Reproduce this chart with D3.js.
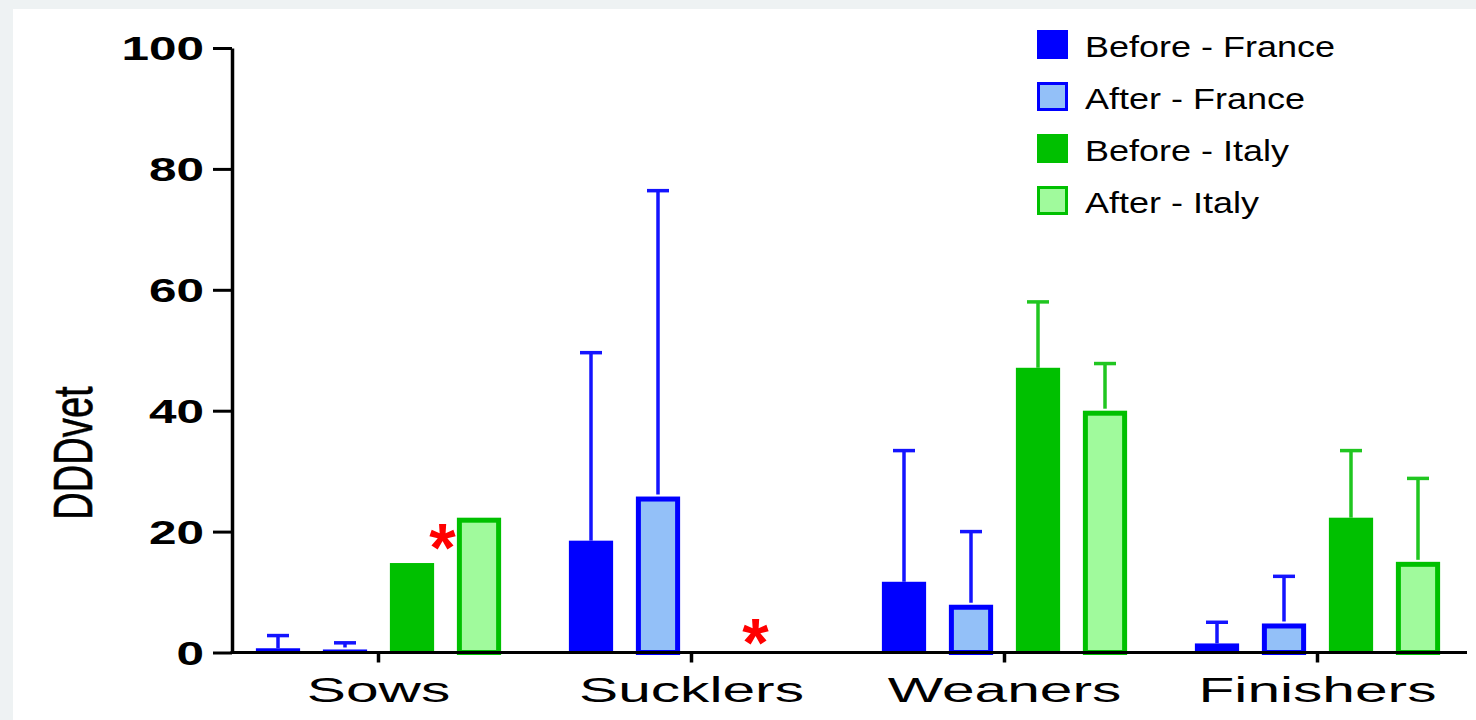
<!DOCTYPE html>
<html>
<head>
<meta charset="utf-8">
<script src="https://cdn.jsdelivr.net/npm/d3@7"></script>
<style>
  html, body { margin: 0; padding: 0; background: #eef2f3; }
  svg { display: block; }
  text { font-family: "Liberation Sans", Arial, sans-serif; }
</style>
</head>
<body>
<div id="chart"></div>
<script>
(function() {
  var width = 1476,
      height = 720;

  // data
  var categories = ["Sows", "Sucklers", "Weaners", "Finishers"];
  var series = ["Before - France", "After - France", "Before - Italy", "After - Italy"];

  var beforeFrance    = [0.7, 18.5, 11.7, 1.5],
      beforeFranceTop = [2.8, 49.6, 33.4, 5.0],
      afterFrance     = [0.5, 25.8, 7.9, 4.8],
      afterFranceTop  = [1.6, 76.4, 20.0, 12.6],
      beforeItaly     = [14.8, 0, 47.1, 22.3],
      beforeItalyTop  = [null, null, 58.0, 33.4],
      afterItaly      = [22.3, 0, 40.0, 15.0],
      afterItalyTop   = [null, null, 47.8, 28.8];

  var yTicks = [0, 20, 40, 60, 80, 100];

  // significance marks: category + height (DDDvet) where the star sits
  var stars = [
    { cat: "Sows", y: 18.0 },
    { cat: "Sucklers", y: 2.3 }
  ];

  var values = [beforeFrance, afterFrance, beforeItaly, afterItaly],
      tops = [beforeFranceTop, afterFranceTop, beforeItalyTop, afterItalyTop];

  var fills   = ["#0000ff", "#93c0f8", "#00c000", "#a0fa9c"],
      strokes = ["#0000ff", "#0000ff", "#00c000", "#00c000"],
      errCol  = ["#1414ff", "#1414ff", "#20c620", "#20c620"],
      hollow  = [false, true, false, true];

  var rows = [];
  categories.forEach(function(c, i) {
    series.forEach(function(s, j) {
      rows.push({ cat: c, s: s, k: j, v: values[j][i], top: tops[j][i] });
    });
  });

  var svg = d3.select("#chart").append("svg")
      .attr("width", width)
      .attr("height", height);

  svg.append("rect")
      .attr("x", 13).attr("y", 9)
      .attr("width", width - 13).attr("height", height - 9)
      .attr("fill", "#ffffff");

  var axisLeft = 232, axisRight = 1467;

  var y = d3.scaleLinear()
      .domain([0, 100])
      .range([652.5, 48]);

  var x0 = d3.scaleBand()
      .domain(categories)
      .range([222, 1474]);

  var x1 = d3.scaleBand()
      .domain(series)
      .range([22.5, 290.5])
      .paddingInner(0.34)
      .paddingOuter(0.17);

  // bars
  var bars = svg.append("g");
  bars.selectAll("rect")
      .data(rows.filter(function(d) { return d.v > 0; }))
    .join("rect")
      .each(function(d) {
        var sw = hollow[d.k] ? 5 : 0,
            bx = x0(d.cat) + x1(d.s),
            bw = x1.bandwidth(),
            top = y(d.v),
            h = y(0) - top;
        var r = d3.select(this);
        if (sw && h <= sw) {
          // too short to show the fill: only the outline colour is seen
          r.attr("x", bx).attr("y", top).attr("width", bw).attr("height", h)
            .attr("fill", strokes[d.k]);
          return;
        }
        r.attr("x", bx + sw / 2)
          .attr("y", top + sw / 2)
          .attr("width", bw - sw)
          .attr("height", Math.max(0, h - sw / 2))
          .attr("fill", fills[d.k])
          .attr("stroke", sw ? strokes[d.k] : "none")
          .attr("stroke-width", sw);
      });

  // error bars (upper only)
  var err = svg.append("g").selectAll("g")
      .data(rows.filter(function(d) { return d.top != null; }))
    .join("g")
      .attr("stroke", function(d) { return errCol[d.k]; })
      .attr("stroke-width", 3.5);

  err.append("line")
      .attr("x1", function(d) { return x0(d.cat) + x1(d.s) + x1.bandwidth() / 2; })
      .attr("x2", function(d) { return x0(d.cat) + x1(d.s) + x1.bandwidth() / 2; })
      .attr("y1", function(d) { return y(d.v) - (hollow[d.k] ? 2 : 0); })
      .attr("y2", function(d) { return y(d.top); });

  err.append("line")
      .attr("x1", function(d) { return x0(d.cat) + x1(d.s) + x1.bandwidth() / 2 - 11; })
      .attr("x2", function(d) { return x0(d.cat) + x1(d.s) + x1.bandwidth() / 2 + 11; })
      .attr("y1", function(d) { return y(d.top); })
      .attr("y2", function(d) { return y(d.top); });

  // y axis
  var yAxis = d3.axisLeft(y)
      .tickValues(yTicks)
      .tickSize(19)
      .tickSizeOuter(0)
      .tickPadding(9);

  var sy = 1.5;
  svg.append("g")
      .attr("class", "y axis")
      .attr("transform", "translate(" + axisLeft + ",0)")
      .call(yAxis)
      .call(function(g) {
        g.select(".domain").attr("stroke", "#000").attr("stroke-width", 3.5);
        g.selectAll(".tick line").attr("stroke", "#000").attr("stroke-width", 3);
        g.selectAll(".tick text")
          .attr("font-size", 33)
          .attr("font-weight", "bold")
          .attr("fill", "#000")
          .attr("font-family", "Liberation Sans, Arial, sans-serif")
          .attr("x", -28 / sy)
          .attr("dy", "0.36em")
          .attr("transform", "scale(" + sy + ",1)");
      });

  // x axis
  var xAxis = d3.axisBottom(x0)
      .tickSize(10)
      .tickSizeOuter(0)
      .tickPadding(0);

  var sx = 1.63;
  svg.append("g")
      .attr("class", "x axis")
      .attr("transform", "translate(0," + y(0) + ")")
      .call(xAxis)
      .call(function(g) {
        g.select(".domain").remove();
        g.selectAll(".tick line").attr("stroke", "#000").attr("stroke-width", 3.5);
        g.selectAll(".tick text")
          .attr("font-size", 36)
          .attr("fill", "#000")
          .attr("font-family", "Liberation Sans, Arial, sans-serif")
          .attr("y", 50)
          .attr("dy", 0)
          .attr("transform", "scale(" + sx + ",1)");
      });

  svg.append("line")
      .attr("x1", axisLeft - 1.5)
      .attr("x2", axisRight)
      .attr("y1", y(0))
      .attr("y2", y(0))
      .attr("stroke", "#000")
      .attr("stroke-width", 3);

  // y title
  svg.append("text")
      .attr("transform", "translate(92,453) rotate(-90) scale(0.68,1)")
      .attr("text-anchor", "middle")
      .attr("font-size", 56)
      .attr("fill", "#000")
      .attr("stroke", "#000")
      .attr("stroke-width", 0.6)
      .text("DDDvet");

  // stars
  svg.append("g").selectAll("text")
      .data(stars)
    .join("text")
      .attr("x", function(d) { return x0(d.cat) + (x1("Before - Italy") + x1("After - Italy") + x1.bandwidth()) / 2 - 3; })
      .attr("y", function(d) { return y(d.y) + 27; })
      .attr("text-anchor", "middle")
      .attr("font-size", 68)
      .attr("font-weight", "bold")
      .attr("fill", "#ff0000")
      .text("*");

  // legend
  var legend = svg.append("g")
      .attr("transform", "translate(1037,30)");

  var item = legend.selectAll("g")
      .data(series)
    .join("g")
      .attr("transform", function(d, i) { return "translate(0," + i * 52 + ")"; });

  item.append("rect")
      .attr("x", function(d, i) { return hollow[i] ? 1.5 : 0; })
      .attr("y", function(d, i) { return hollow[i] ? 1.5 : 0; })
      .attr("width", function(d, i) { return hollow[i] ? 28 : 31; })
      .attr("height", function(d, i) { return hollow[i] ? 26 : 29; })
      .attr("fill", function(d, i) { return fills[i]; })
      .attr("stroke", function(d, i) { return hollow[i] ? strokes[i] : "none"; })
      .attr("stroke-width", 3);

  item.append("text")
      .attr("x", 48 / 1.2)
      .attr("y", 27)
      .attr("transform", "scale(1.2,1)")
      .attr("font-size", 30)
      .attr("fill", "#000")
      .text(function(d) { return d; });
})();
</script>
</body>
</html>
